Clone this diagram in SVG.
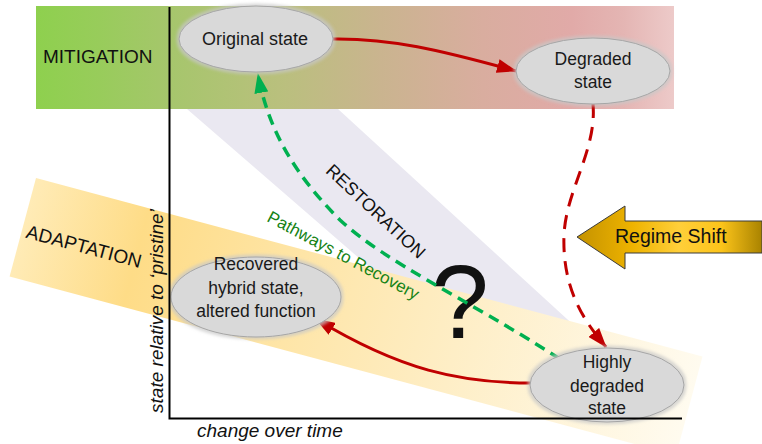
<svg xmlns="http://www.w3.org/2000/svg" width="762" height="444" viewBox="0 0 762 444">
  <defs>
    <style>
      .lbl { font-family: "Liberation Sans", Arial, sans-serif; fill: #111; }
      .node-text { font-family: "Liberation Sans", Arial, sans-serif; font-size: 17.5px; fill: #1a1a1a; text-anchor: middle; }
      .node { fill: #d9d9d9; stroke: #a6a6a6; stroke-width: 1; filter: url(#glow); }
      .axis { stroke: #000; stroke-width: 2; fill: none; }
      .red { fill: none; stroke: #c00000; stroke-width: 3; }
      .red-dash { fill: none; stroke: #c00000; stroke-width: 3; stroke-dasharray: 14 9; }
      .green-dash { fill: none; stroke: #00b050; stroke-width: 3.5; stroke-dasharray: 11 7; }
    </style>
    <linearGradient id="mitigationFill" gradientUnits="userSpaceOnUse" x1="36" y1="0" x2="674" y2="0">
      <stop offset="0" stop-color="#8ed04e"/>
      <stop offset="0.1" stop-color="#98cc5b"/>
      <stop offset="0.21" stop-color="#a6c66c"/>
      <stop offset="0.38" stop-color="#b9c07d"/>
      <stop offset="0.54" stop-color="#cab48f"/>
      <stop offset="0.7" stop-color="#d9ad9f"/>
      <stop offset="0.84" stop-color="#e1aaa8"/>
      <stop offset="0.92" stop-color="#e4b5b3"/>
      <stop offset="1" stop-color="#edcac9"/>
    </linearGradient>
    <linearGradient id="adaptationFill" gradientUnits="userSpaceOnUse" x1="0" y1="0" x2="690" y2="0">
      <stop offset="0" stop-color="#ffebb6"/>
      <stop offset="0.17" stop-color="#fedc87"/>
      <stop offset="0.35" stop-color="#fee3a0"/>
      <stop offset="0.65" stop-color="#feeec6"/>
      <stop offset="1" stop-color="#fffbef"/>
    </linearGradient>
    <linearGradient id="shiftFill" gradientUnits="userSpaceOnUse" x1="577" y1="0" x2="762" y2="0">
      <stop offset="0" stop-color="#c49200"/>
      <stop offset="0.3" stop-color="#eeb300"/>
      <stop offset="0.55" stop-color="#ffcf3a"/>
      <stop offset="0.78" stop-color="#fcc41a"/>
      <stop offset="1" stop-color="#a98300"/>
    </linearGradient>
    <filter id="glow" x="-10%" y="-15%" width="120%" height="130%">
      <feMorphology in="SourceAlpha" operator="dilate" radius="1.5" result="grown"/>
      <feGaussianBlur in="grown" stdDeviation="1.5" result="soft"/>
      <feFlood flood-color="#c8c8c8" flood-opacity="0.7"/>
      <feComposite in2="soft" operator="in" result="halo"/>
      <feMerge>
        <feMergeNode in="halo"/>
        <feMergeNode in="SourceGraphic"/>
      </feMerge>
    </filter>
    <marker id="arrowRed" viewBox="0 0 20 14" refX="19" refY="7" markerWidth="20" markerHeight="14" markerUnits="userSpaceOnUse" orient="auto">
      <path d="M0,0 L20,7 L0,14 Z" fill="#c00000"/>
    </marker>
    <marker id="arrowGreen" viewBox="0 0 20 14" refX="19" refY="7" markerWidth="20" markerHeight="14" markerUnits="userSpaceOnUse" orient="auto">
      <path d="M0,0 L20,7 L0,14 Z" fill="#00b050"/>
    </marker>
  </defs>

  <!-- background zones -->
  <g id="zones">
    <rect id="mitigation-band" x="36" y="6" width="638" height="103" fill="url(#mitigationFill)"/>
    <polygon id="restoration-band" points="187,109 338,109 579,330 442,330" fill="#eae8f1"/>
    <rect id="adaptation-band" x="0" y="0" width="690" height="102" fill="url(#adaptationFill)" transform="translate(36,178) rotate(15)"/>
  </g>

  <!-- zone labels -->
  <g id="zone-labels">
    <text class="lbl" x="43" y="63" font-size="19">MITIGATION</text>
    <text class="lbl" font-size="19" text-anchor="middle" transform="translate(84,246) rotate(15)" y="7">ADAPTATION</text>
    <text class="lbl" font-size="18" text-anchor="middle" transform="translate(376,211) rotate(43)" y="6.5">RESTORATION</text>
    <text class="lbl" font-size="17" text-anchor="middle" style="fill:#168316" transform="translate(343,256) rotate(28)" y="5">Pathways to Recovery</text>
    <text class="lbl" font-size="104" text-anchor="middle" x="460" y="338">?</text>
  </g>

  <!-- regime shift pointer -->
  <g id="regime-shift">
    <path d="M577,237 L625,206 L625,221 L762,221 L762,253 L625,253 L625,269 Z" fill="url(#shiftFill)" stroke="#3a3a3a" stroke-width="1"/>
    <text class="lbl" x="615" y="243" font-size="19.5">Regime Shift</text>
  </g>

  <!-- connectors -->
  <g id="connectors">
    <path id="degrade" class="red" d="M332,39 C390,38 440,50 516,71" marker-end="url(#arrowRed)"/>
    <path id="collapse" class="red-dash" d="M593,104 C597,150 566,190 564,235 C562,290 585,322 606,347" marker-end="url(#arrowRed)"/>
    <path id="adapt" class="red" d="M531,383 C460,383 400,370 316,319" marker-end="url(#arrowRed)"/>
    <path id="recover" class="green-dash" d="M560,359 C465,298 385,262 340,220 C295,175 268,130 258,74" marker-end="url(#arrowGreen)"/>
  </g>

  <!-- states -->
  <g id="original-state">
    <ellipse class="node" cx="256" cy="39" rx="77" ry="33"/>
    <text class="node-text" x="255" y="45" style="font-size:18px">Original state</text>
  </g>
  <g id="degraded-state">
    <ellipse class="node" cx="593" cy="71" rx="77" ry="33"/>
    <text class="node-text" x="593" y="65">Degraded</text>
    <text class="node-text" x="593" y="88">state</text>
  </g>
  <g id="recovered-state">
    <ellipse class="node" cx="256" cy="297" rx="85" ry="40"/>
    <text class="node-text" x="256" y="270">Recovered</text>
    <text class="node-text" x="256" y="294">hybrid state,</text>
    <text class="node-text" x="256" y="317">altered function</text>
  </g>
  <g id="highly-degraded-state">
    <ellipse class="node" cx="607" cy="385" rx="77" ry="37"/>
    <text class="node-text" x="607" y="368">Highly</text>
    <text class="node-text" x="607" y="392">degraded</text>
    <text class="node-text" x="607" y="414">state</text>
  </g>

  <!-- axes -->
  <g id="axes">
    <path class="axis" d="M169.5,7 L169.5,418.5 L682,418.5"/>
    <text class="lbl" font-size="19" font-style="italic" text-anchor="middle" transform="translate(163,311) rotate(-90)">state relative to ‘pristine’</text>
    <text class="lbl" font-size="19" font-style="italic" x="197" y="437">change over time</text>
  </g>
</svg>
